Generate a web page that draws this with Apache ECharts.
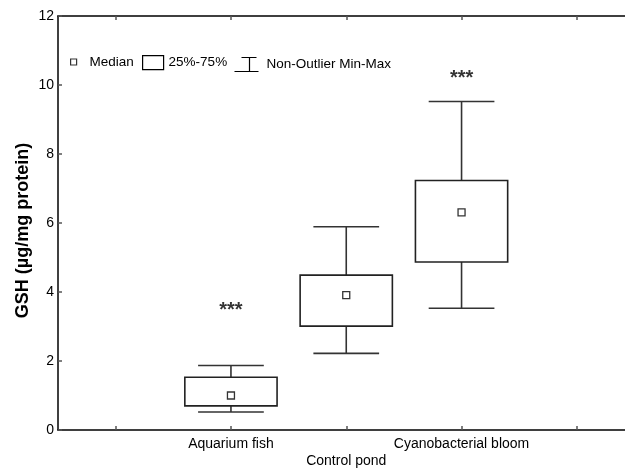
<!DOCTYPE html>
<html>
<head>
<meta charset="utf-8">
<script src="https://cdn.jsdelivr.net/npm/echarts@6/dist/echarts.min.js"></script>
<style>html,body{margin:0;padding:0;background:#fff}#c{width:625px;height:470px}</style>
</head>
<body>
<div id="c"></div>
<script>
const categories = ['', 'Aquarium fish', 'Control pond', 'Cyanobacterial bloom', ''];
const groups = ['Aquarium fish', 'Control pond', 'Cyanobacterial bloom'];
const mins = [0.52, 2.22, 3.53];
const q1s = [0.70, 3.01, 4.87];
const medians = [1.0, 3.91, 6.31];
const q3s = [1.53, 4.49, 7.23];
const maxs = [1.87, 5.89, 9.52];
const starGroups = ['Aquarium fish', 'Cyanobacterial bloom'];
const starValues = [3.58, 10.3];
const yTicks = [0, 2, 4, 6, 8, 10, 12];

const FONT = '"Liberation Sans", Arial, Helvetica, sans-serif';
const chart = echarts.init(document.getElementById('c'));

const legendText = { fontFamily: FONT, fontSize: 13.5, color: '#000' };
const option = {
  animation: false,
  grid: { left: 58, width: 576.5, top: 16, height: 414, outerBoundsMode: 'none', containLabel: false },
  legend: [
    { left: 70, top: 55, padding: 0, selectedMode: false, itemWidth: 14, itemHeight: 6, textStyle: legendText,
      data: [{ name: 'Median', icon: 'path://M0,0 L6,0 L6,6 L0,6 Z M14,3', itemStyle: { color: '#fff', borderColor: '#000', borderWidth: 1.2 } }] },
    { left: 142, top: 55, padding: 0, selectedMode: false, itemWidth: 21, itemHeight: 14, textStyle: legendText,
      data: [{ name: '25%-75%', icon: 'rect', itemStyle: { color: '#fff', borderColor: '#000', borderWidth: 1.2 } }] },
    { left: 232, top: 55, padding: 0, selectedMode: false, itemWidth: 27, itemHeight: 14, textStyle: legendText,
      data: [{ name: 'Non-Outlier Min-Max', icon: 'path://M7,0 L22,0 M15,0 L15,14 M0,14 L24,14 M27,7', itemStyle: { color: 'none', borderColor: '#000', borderWidth: 1.2 } }] }
  ],
  xAxis: [
    { type: 'category', data: categories, boundaryGap: true, position: 'bottom',
      axisLine: { lineStyle: { color: '#000', width: 1.5 } },
      axisTick: { show: true, inside: true, alignWithLabel: true, interval: 0, length: 4, lineStyle: { color: '#555', width: 1.5 } },
      axisLabel: { interval: 0, margin: 6, fontFamily: FONT, fontSize: 14, color: '#000', lineHeight: 17,
        formatter: v => v === 'Control pond' ? '\n' + v : v },
      splitLine: { show: false } },
    { type: 'category', data: categories, boundaryGap: true, position: 'top',
      axisLine: { lineStyle: { color: '#000', width: 1.5 } },
      axisTick: { show: true, inside: true, alignWithLabel: true, interval: 0, length: 4, lineStyle: { color: '#555', width: 1.5 } },
      axisLabel: { show: false }, splitLine: { show: false } }
  ],
  yAxis: {
    type: 'value', min: yTicks[0], max: yTicks[yTicks.length - 1], interval: 2,
    name: 'GSH (µg/mg protein)', nameLocation: 'middle', nameGap: 26, nameRotate: 90, nameMoveOverlap: false,
    nameTextStyle: { fontFamily: FONT, fontSize: 18, fontWeight: 'bold', color: '#000', padding: [0, 15, 0, 0] },
    axisLine: { show: true, lineStyle: { color: '#000', width: 1.5 } },
    axisTick: { show: true, inside: true, length: 4, lineStyle: { color: '#555', width: 1.5 } },
    axisLabel: { margin: 4, fontFamily: FONT, fontSize: 14, color: '#000' },
    splitLine: { show: false }
  },
  series: [
    { name: 'Non-Outlier Min-Max', type: 'custom', xAxisIndex: 0,
      data: groups.map((g, i) => [g, mins[i], q1s[i], q3s[i], maxs[i]]),
      renderItem: (params, api) => {
        const x = api.value(0);
        const pMin = api.coord([x, api.value(1)]);
        const pQ1 = api.coord([x, api.value(2)]);
        const pQ3 = api.coord([x, api.value(3)]);
        const pMax = api.coord([x, api.value(4)]);
        const half = api.size([1, 0])[0] * 0.57 / 2;
        const st = { stroke: '#333', lineWidth: 1.6 };
        return { type: 'group', children: [
          { type: 'line', shape: { x1: pMin[0], y1: pMin[1], x2: pQ1[0], y2: pQ1[1] }, style: st },
          { type: 'line', shape: { x1: pQ3[0], y1: pQ3[1], x2: pMax[0], y2: pMax[1] }, style: st },
          { type: 'line', shape: { x1: pMin[0] - half, y1: pMin[1], x2: pMin[0] + half, y2: pMin[1] }, style: st },
          { type: 'line', shape: { x1: pMax[0] - half, y1: pMax[1], x2: pMax[0] + half, y2: pMax[1] }, style: st }
        ] };
      } },
    { name: '25%-75%', type: 'custom', xAxisIndex: 0,
      data: groups.map((g, i) => [g, q1s[i], q3s[i]]),
      renderItem: (params, api) => {
        const x = api.value(0);
        const pLo = api.coord([x, api.value(1)]);
        const pHi = api.coord([x, api.value(2)]);
        const w = api.size([1, 0])[0] * 0.8;
        return { type: 'rect', shape: { x: pHi[0] - w / 2, y: pHi[1], width: w, height: pLo[1] - pHi[1] },
          style: { fill: '#fff', stroke: '#222', lineWidth: 1.6 } };
      } },
    { name: 'Median', type: 'scatter', xAxisIndex: 0, symbol: 'rect', symbolSize: 7,
      itemStyle: { color: '#fff', borderColor: '#000', borderWidth: 1.3 },
      data: groups.map((g, i) => [g, medians[i]]), z: 5 },
    { name: 'Significance', type: 'scatter', xAxisIndex: 0, symbolSize: 1,
      itemStyle: { color: 'rgba(0,0,0,0)' },
      label: { show: true, position: 'inside', formatter: '***', offset: [0, 4], fontFamily: FONT, fontSize: 20, fontWeight: 'bold', color: '#000' },
      data: starGroups.map((g, i) => [g, starValues[i]]) }
  ]
};
chart.setOption(option);
</script>
</body>
</html>
